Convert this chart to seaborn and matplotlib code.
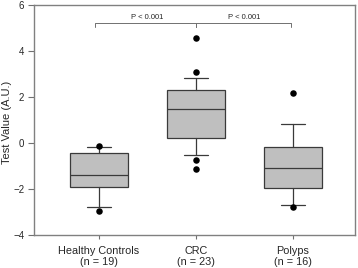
import numpy as np
import pandas as pd
import seaborn as sns
import matplotlib.pyplot as plt

# box summary values
groups = ['Healthy Controls\n(n = 19)', 'CRC\n(n = 23)', 'Polyps\n(n = 16)']
q1 = [-1.90, 0.23, -1.94]
median = [-1.40, 1.50, -1.07]
q3 = [-0.45, 2.32, -0.16]
whisker_lo = [-2.78, -0.52, -2.71]
whisker_hi = [-0.19, 2.83, 0.81]
outlier_group = [0, 0, 1, 1, 1, 1, 2, 2]
outlier_value = [-0.12, -2.96, 4.57, 3.09, -0.75, -1.11, 2.17, -2.80]

sns.set_theme(style='white')
plt.rcParams['font.family'] = ['Liberation Sans', 'DejaVu Sans']

fig = plt.figure(figsize=(3.58, 2.68), dpi=100)
ax = fig.add_axes([0.095, 0.123, 0.897, 0.858])

stats = []
for i in range(len(groups)):
    stats.append({'med': median[i], 'q1': q1[i], 'q3': q3[i],
                  'whislo': whisker_lo[i], 'whishi': whisker_hi[i],
                  'fliers': [], 'label': groups[i]})

edge = '#3a3a3a'
ax.bxp(stats, positions=range(len(groups)), widths=0.6, patch_artist=True,
       showfliers=False,
       boxprops=dict(facecolor='#bfbfbf', edgecolor=edge, linewidth=0.9),
       medianprops=dict(color=edge, linewidth=0.9),
       whiskerprops=dict(color=edge, linewidth=0.9),
       capprops=dict(color=edge, linewidth=0.9), capwidths=0.25)

out = pd.DataFrame({'x': outlier_group, 'y': outlier_value})
sns.scatterplot(data=out, x='x', y='y', ax=ax, color='black', s=22,
                edgecolor='black', linewidth=0, zorder=5, legend=False)

# significance brackets
brackets = [(0, 1), (1, 2)]
for a, b in brackets:
    ax.plot([a - 0.04, a - 0.04, b, b] if a == 0 else [a, a, b - 0.02, b - 0.02],
            [5.05, 5.22, 5.22, 5.05], color='#707070', lw=0.7)
    ax.text((a + b) / 2, 5.3, 'P < 0.001', ha='center', va='bottom', fontsize=5.5)

ax.set_xlim(-0.67, 2.64)
ax.set_ylim(-4, 6)
ax.set_yticks([-4, -2, 0, 2, 4, 6])
ax.set_xticks(range(len(groups)))
ax.set_xticklabels(groups, fontsize=7.8, linespacing=1.1)
ax.tick_params(axis='y', labelsize=7, length=4, width=0.8, color='#707070',
               direction='out', left=True, pad=3)
ax.tick_params(axis='x', length=3, width=0.8, color='#707070',
               direction='out', bottom=True, pad=5)
ax.set_xlabel('')
ax.set_ylabel('Test Value (A.U.)', fontsize=8, va='center')
ax.yaxis.set_label_coords(-0.085, 0.49)
for s in ax.spines.values():
    s.set_color('#808080')
    s.set_linewidth(1.0)

fig.savefig('out.png', dpi=100)
